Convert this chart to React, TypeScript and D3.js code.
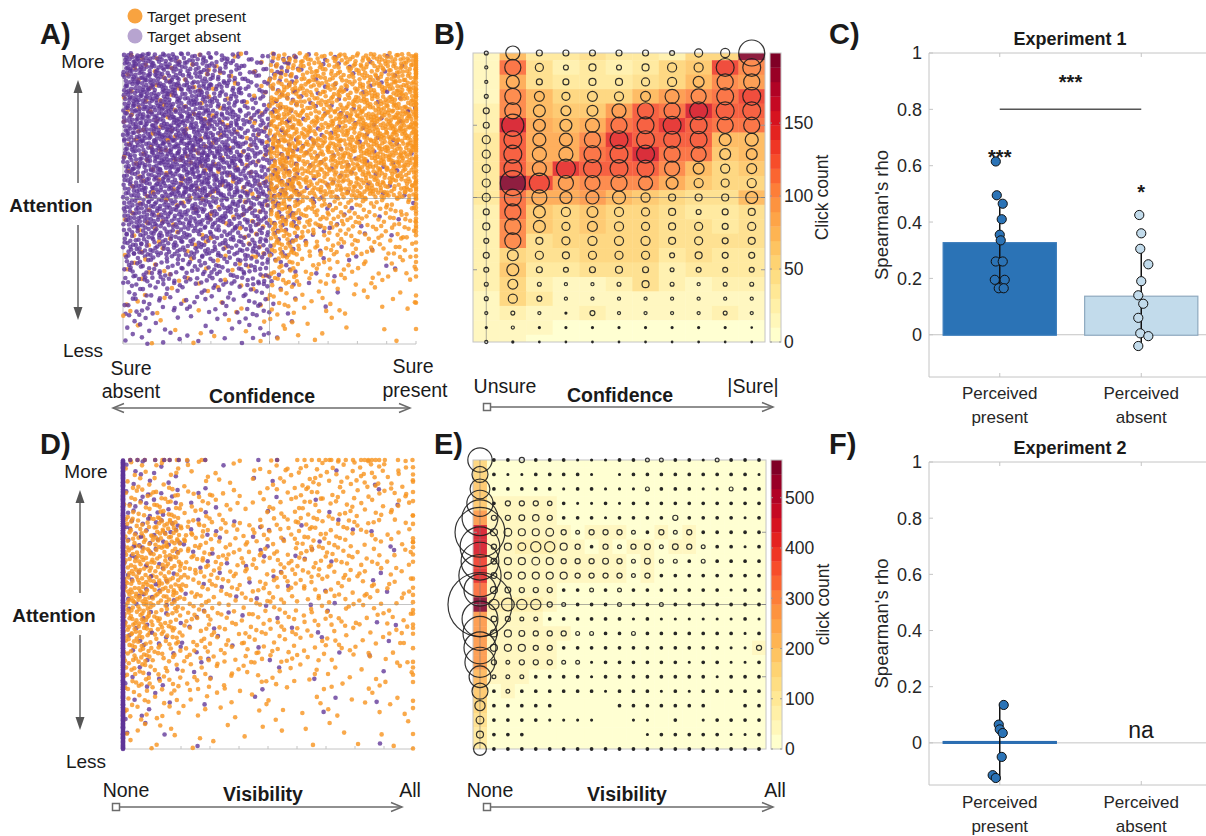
import * as d3 from 'd3'

const FONT = '"Liberation Sans", Arial, Helvetica, sans-serif'
const INK = '#1a1a1a'
const TICK_INK = '#262626'
const AXIS = '#c4c4c4'
const ARROW = '#6b6b6b'
const ORANGE = '#f7931e'
const PURPLE = '#5f3597'

// ---------- A) confidence x attention, counts per 0.1 x 0.1 bin (rows: more -> less attention)
const aAbsent = [
  [70, 55, 45, 35, 20, 20, 5, 4, 3, 3],
  [70, 65, 55, 40, 25, 12, 5, 5, 4, 3],
  [65, 70, 65, 50, 35, 10, 5, 5, 5, 3],
  [60, 70, 70, 60, 40, 12, 6, 5, 4, 3],
  [55, 60, 65, 55, 45, 18, 5, 5, 3, 3],
  [55, 55, 50, 45, 40, 15, 5, 4, 2, 2],
  [45, 45, 40, 35, 35, 12, 4, 3, 2, 1],
  [30, 25, 25, 25, 30, 8, 3, 2, 1, 1],
  [18, 12, 10, 12, 15, 4, 1, 1, 0, 0],
  [10, 6, 4, 5, 8, 2, 0, 0, 0, 0],
]
const aPresent = [
  [6, 6, 5, 4, 4, 30, 40, 40, 45, 55],
  [6, 6, 5, 4, 5, 45, 40, 45, 55, 60],
  [6, 6, 6, 5, 6, 55, 45, 55, 65, 70],
  [6, 6, 6, 5, 6, 60, 50, 55, 65, 65],
  [5, 5, 5, 5, 8, 60, 45, 50, 55, 50],
  [5, 5, 4, 4, 8, 45, 30, 25, 22, 20],
  [5, 5, 4, 4, 6, 35, 20, 18, 15, 15],
  [5, 4, 4, 4, 5, 22, 12, 10, 8, 8],
  [4, 3, 3, 3, 4, 12, 6, 5, 4, 4],
  [3, 2, 2, 2, 3, 6, 3, 2, 1, 1],
]
// target-present clicks sitting on "sure present" (per attention bin)
const aPresentSure = [14, 14, 14, 14, 12, 8, 6, 3, 2, 1]

// ---------- D) visibility x attention
const dAbsent = [
  [6, 4, 2, 1, 1, 1, 0, 1, 1, 0],
  [10, 8, 3, 1, 1, 1, 1, 1, 1, 1],
  [12, 12, 4, 3, 3, 2, 2, 2, 1, 1],
  [8, 6, 3, 3, 3, 2, 2, 1, 1, 1],
  [8, 5, 2, 2, 2, 2, 1, 1, 1, 1],
  [6, 4, 3, 2, 2, 2, 2, 1, 1, 1],
  [5, 4, 3, 2, 1, 1, 1, 1, 1, 1],
  [5, 3, 2, 1, 1, 1, 1, 0, 1, 0],
  [4, 2, 1, 0, 1, 0, 1, 1, 1, 0],
  [2, 1, 1, 0, 0, 0, 0, 0, 1, 0],
]
const dPresent = [
  [10, 8, 6, 4, 5, 10, 12, 12, 14, 10],
  [16, 20, 12, 8, 6, 10, 14, 12, 10, 10],
  [30, 40, 20, 12, 12, 12, 18, 14, 10, 8],
  [40, 35, 20, 15, 14, 14, 16, 14, 10, 8],
  [45, 40, 18, 14, 12, 14, 12, 12, 10, 8],
  [45, 28, 16, 12, 12, 12, 10, 10, 8, 8],
  [34, 22, 14, 12, 12, 12, 10, 8, 6, 6],
  [22, 14, 10, 8, 7, 6, 5, 5, 4, 4],
  [12, 8, 5, 4, 3, 3, 3, 3, 3, 3],
  [6, 4, 2, 2, 2, 1, 2, 2, 2, 2],
]
const dAbsentNone = [40, 40, 40, 40, 40, 40, 40, 40, 40, 40] // visibility = none
const dPresentAll = [3, 3, 3, 3, 4, 4, 3, 3, 2, 2] // visibility = all
const dPresentTop = [3, 6, 3, 0, 0, 1, 5, 5, 6, 3] // attention = max
const dAbsentTop = [3, 4, 1, 0, 1, 1, 0, 0, 0, 0]

// ---------- B) click counts (heat) and circle size, per confidence column (top row = more attention)
const bHeatByCol = [
  [15, 15, 15, 18, 25, 28, 30, 30, 30, 30, 30, 28, 28, 25, 25, 22, 20, 15, 12, 10, 10],
  [75, 110, 80, 105, 105, 150, 120, 120, 120, 190, 110, 110, 100, 105, 55, 60, 55, 55, 25, 15, 10],
  [35, 40, 40, 70, 75, 80, 85, 85, 90, 130, 85, 65, 65, 45, 40, 35, 20, 30, 15, 10, 8],
  [30, 25, 30, 55, 60, 70, 80, 85, 145, 95, 80, 55, 50, 50, 45, 30, 15, 15, 12, 8, 5],
  [40, 30, 35, 55, 60, 85, 105, 110, 125, 105, 90, 60, 60, 55, 50, 45, 15, 15, 25, 8, 5],
  [30, 25, 35, 55, 95, 110, 145, 125, 125, 105, 70, 55, 55, 55, 50, 40, 20, 15, 15, 8, 5],
  [35, 35, 40, 70, 120, 125, 120, 150, 125, 100, 60, 50, 50, 55, 55, 45, 40, 15, 12, 8, 5],
  [25, 55, 55, 95, 110, 145, 120, 110, 100, 85, 55, 40, 45, 45, 35, 25, 20, 15, 12, 8, 5],
  [50, 60, 75, 105, 155, 120, 120, 110, 70, 60, 45, 30, 45, 45, 40, 30, 15, 15, 15, 8, 5],
  [55, 130, 100, 115, 125, 110, 70, 65, 55, 50, 45, 35, 35, 40, 35, 30, 20, 15, 20, 8, 5],
  [195, 105, 95, 130, 125, 110, 75, 70, 60, 55, 70, 45, 45, 40, 35, 30, 20, 15, 15, 8, 5],
]
const bCircleByCol = [
  [15, 12, 12, 15, 23, 23, 31, 31, 31, 31, 31, 23, 27, 19, 23, 19, 15, 15, 12, 8, 12],
  [54, 62, 50, 62, 62, 85, 69, 69, 69, 96, 65, 62, 62, 62, 42, 46, 38, 35, 15, 12, 8],
  [23, 31, 23, 38, 46, 46, 50, 54, 54, 77, 58, 46, 46, 27, 31, 23, 15, 19, 12, 8, 6],
  [23, 19, 23, 31, 38, 46, 50, 54, 73, 58, 46, 35, 31, 31, 27, 19, 12, 12, 8, 8, 6],
  [23, 27, 27, 38, 42, 54, 62, 65, 69, 58, 50, 42, 38, 35, 31, 23, 12, 12, 19, 8, 6],
  [23, 19, 27, 35, 54, 62, 69, 69, 69, 62, 50, 35, 35, 35, 31, 27, 15, 12, 12, 8, 6],
  [23, 27, 31, 38, 62, 65, 69, 69, 65, 54, 35, 31, 31, 35, 31, 23, 27, 12, 12, 8, 6],
  [19, 35, 35, 54, 62, 69, 65, 62, 58, 46, 27, 27, 27, 27, 19, 15, 15, 12, 12, 8, 6],
  [31, 35, 42, 58, 69, 65, 65, 58, 42, 35, 27, 19, 31, 31, 27, 19, 12, 12, 12, 8, 6],
  [35, 69, 62, 65, 69, 62, 46, 42, 35, 31, 27, 23, 23, 23, 23, 19, 15, 12, 15, 8, 6],
  [100, 69, 62, 69, 69, 62, 50, 42, 38, 35, 46, 27, 31, 27, 23, 19, 15, 12, 12, 6, 6],
]

// ---------- E) click counts (heat) and circle size, per attention row (columns: none -> all visibility)
const eHeat = [
  [160, 25, 25, 25, 25, 25, 20, 20, 20, 20, 20, 20, 20, 20, 20, 20, 20, 20, 20, 20, 20],
  [170, 25, 20, 20, 25, 25, 20, 20, 15, 15, 20, 20, 20, 20, 20, 20, 20, 20, 20, 20, 15],
  [180, 25, 25, 25, 25, 25, 20, 20, 20, 15, 15, 20, 25, 20, 20, 20, 15, 15, 20, 20, 20],
  [200, 30, 35, 35, 35, 30, 20, 15, 15, 20, 15, 20, 20, 20, 20, 20, 20, 20, 20, 20, 20],
  [270, 35, 35, 40, 40, 35, 20, 20, 20, 15, 20, 20, 20, 20, 25, 20, 20, 20, 20, 15, 20],
  [450, 45, 50, 55, 55, 55, 30, 25, 30, 30, 30, 25, 20, 30, 25, 30, 20, 20, 20, 20, 20],
  [440, 40, 50, 60, 70, 70, 45, 30, 20, 30, 25, 30, 35, 25, 35, 30, 25, 20, 20, 15, 20],
  [400, 40, 45, 45, 50, 45, 30, 30, 30, 35, 30, 25, 35, 25, 25, 20, 25, 20, 20, 20, 20],
  [420, 40, 45, 45, 45, 45, 40, 30, 30, 30, 30, 25, 30, 20, 20, 20, 20, 20, 20, 20, 20],
  [330, 50, 45, 35, 35, 35, 20, 20, 25, 20, 25, 20, 20, 20, 20, 20, 20, 20, 15, 20, 20],
  [560, 65, 70, 65, 65, 35, 25, 20, 20, 20, 25, 20, 20, 25, 20, 20, 20, 20, 20, 20, 20],
  [280, 35, 35, 30, 30, 20, 20, 20, 20, 20, 20, 15, 20, 15, 15, 15, 15, 15, 15, 20, 15],
  [270, 40, 40, 35, 35, 35, 35, 25, 25, 20, 20, 25, 20, 20, 20, 20, 20, 20, 20, 15, 20],
  [260, 40, 40, 40, 35, 35, 20, 20, 20, 20, 20, 20, 20, 20, 20, 20, 20, 20, 15, 15, 30],
  [260, 35, 30, 35, 35, 35, 25, 25, 15, 20, 20, 20, 20, 20, 20, 15, 20, 20, 15, 15, 20],
  [210, 30, 30, 30, 20, 20, 20, 20, 15, 20, 20, 20, 20, 20, 20, 20, 20, 15, 20, 20, 20],
  [200, 20, 30, 20, 20, 20, 20, 20, 20, 15, 20, 20, 20, 20, 15, 20, 15, 20, 20, 20, 20],
  [170, 20, 20, 20, 20, 20, 5, 5, 5, 5, 20, 20, 20, 20, 20, 20, 20, 5, 5, 20, 20],
  [120, 20, 20, 20, 20, 15, 15, 15, 15, 5, 5, 15, 15, 5, 20, 5, 15, 20, 20, 20, 20],
  [110, 20, 20, 20, 5, 5, 5, 5, 5, 5, 5, 5, 15, 20, 20, 20, 20, 20, 15, 15, 20],
  [110, 20, 20, 20, 20, 20, 20, 20, 20, 20, 20, 20, 20, 20, 20, 20, 20, 20, 20, 20, 20],
]
const eCircle = [
  [38, 4, 4, 8, 4, 4, 4, 3, 3, 3, 4, 4, 6, 6, 4, 4, 3, 6, 4, 4, 4],
  [25, 4, 3, 3, 4, 4, 4, 4, 3, 0, 3, 4, 4, 4, 4, 4, 4, 4, 4, 4, 3],
  [31, 4, 4, 4, 4, 4, 3, 4, 4, 3, 3, 3, 6, 4, 4, 4, 3, 3, 6, 4, 4],
  [41, 4, 8, 8, 8, 7, 4, 3, 3, 4, 3, 4, 4, 4, 4, 4, 4, 4, 4, 4, 4],
  [56, 8, 8, 9, 10, 8, 4, 4, 4, 3, 4, 4, 4, 4, 8, 4, 4, 4, 4, 3, 4],
  [78, 11, 12, 11, 11, 12, 8, 6, 8, 8, 8, 6, 4, 8, 6, 8, 4, 4, 4, 4, 4],
  [62, 8, 11, 12, 16, 16, 11, 8, 4, 8, 6, 8, 9, 6, 9, 8, 6, 4, 4, 3, 4],
  [59, 9, 11, 11, 12, 11, 8, 8, 8, 9, 8, 6, 9, 6, 6, 4, 6, 4, 4, 4, 4],
  [66, 9, 11, 11, 11, 11, 11, 8, 8, 8, 8, 6, 8, 4, 4, 4, 4, 4, 4, 4, 4],
  [50, 11, 9, 8, 8, 8, 4, 4, 6, 4, 6, 4, 4, 4, 4, 4, 4, 4, 3, 4, 4],
  [100, 16, 20, 16, 16, 8, 6, 4, 4, 4, 6, 4, 4, 6, 4, 4, 4, 4, 4, 4, 4],
  [56, 9, 8, 6, 6, 4, 4, 4, 4, 4, 4, 3, 4, 3, 3, 3, 3, 3, 3, 4, 3],
  [53, 11, 11, 9, 8, 8, 8, 6, 6, 4, 4, 6, 4, 4, 4, 4, 4, 4, 4, 3, 4],
  [50, 11, 11, 11, 8, 8, 4, 4, 4, 4, 4, 4, 4, 4, 4, 4, 4, 4, 3, 3, 8],
  [47, 8, 6, 8, 8, 8, 6, 6, 3, 4, 4, 4, 4, 4, 4, 3, 4, 4, 3, 3, 4],
  [34, 6, 6, 6, 4, 4, 4, 4, 3, 4, 4, 4, 4, 4, 4, 4, 4, 3, 4, 4, 4],
  [25, 4, 6, 4, 4, 4, 4, 4, 4, 3, 4, 4, 4, 3, 4, 3, 4, 4, 4, 4, 4],
  [16, 4, 4, 4, 4, 4, 0, 0, 0, 0, 4, 4, 4, 4, 4, 4, 4, 0, 0, 4, 4],
  [12, 4, 4, 4, 4, 3, 3, 3, 3, 0, 0, 3, 3, 0, 4, 0, 3, 4, 4, 4, 4],
  [11, 4, 4, 4, 0, 0, 0, 0, 0, 0, 0, 0, 3, 4, 4, 4, 4, 4, 3, 3, 4],
  [20, 4, 4, 4, 4, 4, 4, 4, 4, 4, 4, 4, 4, 4, 4, 4, 4, 4, 4, 4, 4],
]

// ---------- C) / F) Spearman's rho
const groups = [['Perceived', 'present'], ['Perceived', 'absent']]
const exp1Mean = [0.325, 0.135]
const exp1Sd = [0.15, 0.17]
// [jitter (category units), rho]
const exp1Present = [[-0.028, 0.615], [-0.021, 0.495], [0.021, 0.465], [0.014, 0.41], [0, 0.355], [0.007, 0.335],
  [-0.028, 0.26], [0.021, 0.26], [-0.035, 0.195], [0.035, 0.195], [-0.007, 0.165], [0.028, 0.165]]
const exp1Absent = [[-0.014, 0.425], [0, 0.36], [-0.007, 0.305], [0.05, 0.25], [0, 0.19], [-0.021, 0.14],
  [0.014, 0.11], [-0.021, 0.06], [-0.007, 0.005], [0.05, -0.005], [-0.021, -0.04]]
const exp2Mean = [0.003]
const exp2Sd = [0.137]
const exp2Present = [[0.028, 0.135], [-0.007, 0.065], [0, 0.048], [0.021, 0.035], [0.014, -0.05], [-0.05, -0.115], [-0.028, -0.125]]

// radical inverse, used to spread a bin's count evenly over the bin
const halton = (i: number, b: number) => {
  let f = 1, v = 0
  while (i > 0) { f /= b; v += f * (i % b); i = Math.floor(i / b) }
  return v
}

type Dot = { x: number; y: number; absent: boolean }

// lay each bin's count out inside its bin, both groups interleaved
function binDots(present: number[][], absent: number[][]): Dot[] {
  const nr = present.length, nc = present[0].length
  const out: Dot[] = []
  for (let r = 0; r < nr; r++) for (let c = 0; c < nc; c++) {
    const base = (r * nc + c) * 211 + 17
    const nP = present[r][c], nA = absent[r][c]
    const at = (k: number) => ({ x: (c + halton(k, 2)) / nc, y: 1 - (r + halton(k, 3)) / nr })
    for (let i = 0; i < Math.max(nP, nA); i++) {
      if (i < nP) out.push({ ...at(base + i), absent: false })
      if (i < nA) out.push({ ...at(base + 100 + i), absent: true })
    }
  }
  return out
}

// dots sitting on an edge of the plot, counts per bin along it
function edgeDots(counts: number[], fixed: number, vertical: boolean, absent: boolean): Dot[] {
  const n = counts.length
  const out: Dot[] = []
  counts.forEach((cnt, b) => {
    for (let i = 0; i < cnt; i++) {
      const t = (b + halton(b * 53 + i + 1, 2)) / n
      out.push(vertical ? { x: fixed, y: 1 - t, absent } : { x: t, y: fixed, absent })
    }
  })
  return out
}

const txt = (size: number, bold = false) => ({ fontFamily: FONT, fontSize: size, fontWeight: bold ? 700 : 400, fill: INK })

function Scatter({ left, right, top, bottom, dots, vline }: { left: number; right: number; top: number; bottom: number; dots: Dot[]; vline: boolean }) {
  const x = d3.scaleLinear().domain([0, 1]).range([left, right])
  const y = d3.scaleLinear().domain([0, 1]).range([bottom, top])
  return (
    <g>
      <line x1={left} x2={left} y1={top} y2={bottom} stroke={AXIS} />
      <line x1={left} x2={right} y1={bottom} y2={bottom} stroke={AXIS} />
      {d3.range(11).map(i => <line key={i} x1={x(i / 10)} x2={x(i / 10)} y1={bottom} y2={bottom - 3} stroke={AXIS} />)}
      {dots.map((d, i) => (
        <circle key={i} cx={x(d.x)} cy={y(d.y)} r={2.3} fill={d.absent ? PURPLE : ORANGE} fillOpacity={d.absent ? 0.78 : 0.8} />
      ))}
      <line x1={left} x2={right} y1={y(0.5)} y2={y(0.5)} stroke="#8a8a8a" strokeOpacity={0.5} />
      {vline && <line x1={x(0.5)} x2={x(0.5)} y1={top} y2={bottom} stroke="#8a8a8a" strokeOpacity={0.5} />}
    </g>
  )
}

function Heat({ id, left, right, top, bottom, heat, circles, max, rMax, ticks, label }: {
  id: string; left: number; right: number; top: number; bottom: number; heat: number[][]; circles: number[][]
  max: number; rMax: number; ticks: number[]; label: string
}) {
  const nr = heat.length, nc = heat[0].length
  const x = d3.scaleLinear().domain([-0.5, nc - 0.5]).range([left, right])
  const y = d3.scaleLinear().domain([0, nr - 1]).range([top, bottom])
  const color = d3.scaleQuantize<string>().domain([0, max]).range(d3.quantize(d3.interpolateYlOrRd, 20))
  const rad = d3.scaleLinear().domain([0, 100]).range([0, rMax])
  const cb = d3.scaleLinear().domain([0, max]).range([bottom, top])
  const cbX = right + 5, cbW = 11
  return (
    <g>
      <clipPath id={id}><rect x={left} y={top} width={right - left} height={bottom - top} /></clipPath>
      <g clipPath={`url(#${id})`} opacity={0.88}>
        {heat.map((row, r) => row.map((v, c) => (
          <rect key={`${r}-${c}`} x={x(c - 0.5)} y={y(r - 0.5)} width={x(c + 0.5) - x(c - 0.5) + 0.4} height={y(r + 0.5) - y(r - 0.5) + 0.4} fill={color(v)} />
        )))}
      </g>
      <rect x={left} y={top} width={right - left} height={bottom - top} fill="none" stroke={AXIS} />
      {[5, 10, 15].map(r => (
        <g key={r}>
          <line x1={left} x2={left + 4} y1={y(r)} y2={y(r)} stroke="#999" />
          <line x1={right} x2={right - 4} y1={y(r)} y2={y(r)} stroke="#999" />
        </g>
      ))}
      <line x1={x(0)} x2={x(0)} y1={top} y2={bottom} stroke="#7a7a7a" strokeOpacity={0.6} />
      <line x1={left} x2={right} y1={y(10)} y2={y(10)} stroke="#7a7a7a" strokeOpacity={0.6} />
      {circles.map((row, r) => row.map((v, c) => v > 0 && (
        <circle key={`c${r}-${c}`} cx={x(c)} cy={y(r)} r={rad(v)} fill={rad(v) < 1.5 ? '#2a2a2a' : 'none'}
          stroke="#1e1e1e" strokeWidth={1.2} strokeOpacity={0.9} />
      )))}
      {d3.range(20).map(i => {
        const a = (i * max) / 20, b = ((i + 1) * max) / 20
        return <rect key={`cb${i}`} x={cbX} y={cb(b)} width={cbW} height={cb(a) - cb(b) + 0.3} fill={color((a + b) / 2)} />
      })}
      <rect x={cbX} y={top} width={cbW} height={bottom - top} fill="none" stroke={AXIS} />
      {ticks.map(t => (
        <g key={`t${t}`}>
          <line x1={cbX} x2={cbX + 2} y1={cb(t)} y2={cb(t)} stroke="#999" />
          <line x1={cbX + cbW} x2={cbX + cbW - 2} y1={cb(t)} y2={cb(t)} stroke="#999" />
          <text x={cbX + 14} y={cb(t)} dy="0.36em" style={{ ...txt(17.5), fill: TICK_INK }}>{t}</text>
        </g>
      ))}
      <text transform={`translate(${cbX + 58},${(top + bottom) / 2}) rotate(-90)`} textAnchor="middle" style={{ ...txt(17.5), fill: TICK_INK }}>{label}</text>
    </g>
  )
}

function Rho({ top, bottom, title, means, sds, sets, fills, strokes, labelY }: {
  top: number; bottom: number; title: string; means: number[]; sds: number[]; sets: number[][][]
  fills: string[]; strokes: string[]; labelY: number
}) {
  const x = d3.scaleLinear().domain([0.5, 2.5]).range([929, 1212])
  const y = d3.scaleLinear().domain([-0.15, 1]).range([bottom, top])
  const bw = x(0.8) - x(0)
  return (
    <g>
      <text x={1070} y={top - 8} textAnchor="middle" style={txt(18, true)}>{title}</text>
      <line x1={x(0.5)} x2={x(2.5)} y1={top} y2={top} stroke={AXIS} />
      <line x1={x(0.5)} x2={x(2.5)} y1={bottom} y2={bottom} stroke={AXIS} />
      <line x1={x(0.5)} x2={x(0.5)} y1={top} y2={bottom} stroke={AXIS} />
      <line x1={x(0.5)} x2={x(2.5)} y1={y(0)} y2={y(0)} stroke={AXIS} />
      {[0, 0.2, 0.4, 0.6, 0.8, 1].map(t => (
        <g key={t}>
          <line x1={x(0.5)} x2={x(0.5) + 4} y1={y(t)} y2={y(t)} stroke={AXIS} />
          <text x={x(0.5) - 7} y={y(t)} dy="0.36em" textAnchor="end" style={{ ...txt(18), fill: TICK_INK }}>{t}</text>
        </g>
      ))}
      {groups.map((g, i) => (
        <g key={g[1]}>
          <line x1={x(i + 1)} x2={x(i + 1)} y1={top} y2={top + 4} stroke={AXIS} />
          <line x1={x(i + 1)} x2={x(i + 1)} y1={bottom} y2={bottom - 4} stroke={AXIS} />
          <text x={x(i + 1)} y={labelY} textAnchor="middle" style={{ ...txt(17), fill: TICK_INK }}>{g[0]}</text>
          <text x={x(i + 1)} y={labelY + 24} textAnchor="middle" style={{ ...txt(17), fill: TICK_INK }}>{g[1]}</text>
        </g>
      ))}
      <text transform={`translate(888,${(top + bottom) / 2}) rotate(-90)`} textAnchor="middle" style={{ ...txt(18.5), fill: TICK_INK }}>Spearman's rho</text>
      {means.map((m, i) => (
        <g key={`b${i}`}>
          <rect x={x(i + 1) - bw / 2} y={Math.min(y(m), y(0)) - 0.5} width={bw} height={Math.abs(y(0) - y(m)) + 1}
            fill={fills[i]} stroke={strokes[i]} strokeWidth={1.2} />
          <line x1={x(i + 1)} x2={x(i + 1)} y1={y(m + sds[i])} y2={y(m - sds[i])} stroke="#111" strokeWidth={1.5} />
          {sets[i].map(([j, v], k) => (
            <circle key={k} cx={x(i + 1 + j)} cy={y(v)} r={4.6} fill={fills[i]} stroke="#111" strokeWidth={1} />
          ))}
        </g>
      ))}
    </g>
  )
}

function HArrow({ x0, x1, y, square, double }: { x0: number; x1: number; y: number; square?: boolean; double?: boolean }) {
  return (
    <g stroke={ARROW} strokeWidth={1.5} fill="none">
      <line x1={x0} x2={x1} y1={y} y2={y} />
      <path d={`M${x1 - 11},${y - 4.5} L${x1},${y} L${x1 - 11},${y + 4.5}`} />
      {double && <path d={`M${x0 + 11},${y - 4.5} L${x0},${y} L${x0 + 11},${y + 4.5}`} />}
      {square && <rect x={x0 - 3.5} y={y - 3.5} width={7} height={7} fill="#fff" />}
    </g>
  )
}

function VArrow({ x, y0, gap0, gap1, y1 }: { x: number; y0: number; gap0: number; gap1: number; y1: number }) {
  return (
    <g>
      <line x1={x} x2={x} y1={y0 + 8} y2={gap0} stroke={ARROW} strokeWidth={1.6} />
      <line x1={x} x2={x} y1={gap1} y2={y1 - 8} stroke={ARROW} strokeWidth={1.6} />
      <path d={`M${x},${y0} L${x - 4.5},${y0 + 13} L${x + 4.5},${y0 + 13} Z`} fill="#555" />
      <path d={`M${x},${y1} L${x - 4.5},${y1 - 13} L${x + 4.5},${y1 - 13} Z`} fill="#555" />
    </g>
  )
}

export default function App() {
  const aDots = [...binDots(aPresent, aAbsent), ...edgeDots(aPresentSure, 1, true, false)]
  const dDots = [
    ...binDots(dPresent, dAbsent),
    ...edgeDots(dPresentAll, 1, true, false),
    ...edgeDots(dPresentTop, 1, false, false),
    ...edgeDots(dAbsentTop, 1, false, true),
    ...edgeDots(dAbsentNone, 0, true, true),
  ]
  const yC = d3.scaleLinear().domain([-0.15, 1]).range([377, 53])
  const xC = d3.scaleLinear().domain([0.5, 2.5]).range([929, 1212])
  return (
    <svg width={1206} height={836} style={{ position: 'absolute', left: 0, top: 0, background: '#fff' }}>
      {/* ---- A ---- */}
      <text x={40} y={44} style={txt(29, true)}>A)</text>
      <circle cx={135} cy={16} r={7.5} fill={ORANGE} fillOpacity={0.85} />
      <circle cx={135} cy={36} r={7.5} fill={PURPLE} fillOpacity={0.45} />
      <text x={147} y={22} style={txt(15.5)}>Target present</text>
      <text x={147} y={42} style={txt(15.5)}>Target absent</text>
      <Scatter left={123} right={416} top={53} bottom={344} dots={aDots} vline />
      <text x={83} y={68} textAnchor="middle" style={txt(19)}>More</text>
      <text x={51} y={212} textAnchor="middle" style={txt(19, true)}>Attention</text>
      <text x={83} y={357} textAnchor="middle" style={txt(19)}>Less</text>
      <VArrow x={78} y0={80} gap0={183} gap1={225} y1={320} />
      <text x={131} y={375} textAnchor="middle" style={txt(19.5)}>Sure</text>
      <text x={131} y={398} textAnchor="middle" style={txt(19.5)}>absent</text>
      <text x={413} y={373} textAnchor="middle" style={txt(19.5)}>Sure</text>
      <text x={415} y={397} textAnchor="middle" style={txt(19.5)}>present</text>
      <text x={262} y={403} textAnchor="middle" style={txt(19.5, true)}>Confidence</text>
      <HArrow x0={113} x1={410} y={408} double />

      {/* ---- B ---- */}
      <text x={434} y={44} style={txt(29, true)}>B)</text>
      <Heat id="clipB" left={473} right={765} top={53} bottom={342} heat={d3.transpose(bHeatByCol)} circles={d3.transpose(bCircleByCol)}
        max={198} rMax={13} ticks={[0, 50, 100, 150]} label="Click count" />
      <text x={505} y={393} textAnchor="middle" style={txt(19.5)}>Unsure</text>
      <text x={620} y={402} textAnchor="middle" style={txt(19.5, true)}>Confidence</text>
      <text x={753} y={393} textAnchor="middle" style={txt(19.5)}>|Sure|</text>
      <HArrow x0={487} x1={773} y={407} square />

      {/* ---- C ---- */}
      <text x={829} y={44} style={txt(29, true)}>C)</text>
      <Rho top={53} bottom={377} title="Experiment 1" means={exp1Mean} sds={exp1Sd} sets={[exp1Present, exp1Absent]}
        fills={['#2b73b6', '#c2dbeb']} strokes={['#3a7cbb', '#8ea9bf']} labelY={399} />
      <line x1={xC(1)} x2={xC(2)} y1={yC(0.8)} y2={yC(0.8)} stroke="#555" strokeWidth={1.5} />
      <text x={(xC(1) + xC(2)) / 2} y={yC(0.91) + 11} textAnchor="middle" style={txt(20, true)}>***</text>
      <text x={xC(1)} y={yC(0.645) + 11} textAnchor="middle" style={txt(20, true)}>***</text>
      <text x={xC(2)} y={yC(0.52) + 11} textAnchor="middle" style={txt(20, true)}>*</text>

      {/* ---- D ---- */}
      <text x={40} y={454} style={txt(29, true)}>D)</text>
      <Scatter left={123} right={413} top={460} bottom={749} dots={dDots} vline={false} />
      <text x={86} y={478} textAnchor="middle" style={txt(19)}>More</text>
      <text x={54} y={622} textAnchor="middle" style={txt(19, true)}>Attention</text>
      <text x={86} y={768} textAnchor="middle" style={txt(19)}>Less</text>
      <VArrow x={80} y0={490} gap0={593} gap1={635} y1={730} />
      <text x={126} y={797} textAnchor="middle" style={txt(19.5)}>None</text>
      <text x={263} y={801} textAnchor="middle" style={txt(19.5, true)}>Visibility</text>
      <text x={410} y={797} textAnchor="middle" style={txt(19.5)}>All</text>
      <HArrow x0={116} x1={402} y={807} square />

      {/* ---- E ---- */}
      <text x={434} y={454} style={txt(29, true)}>E)</text>
      <Heat id="clipE" left={473} right={766} top={460} bottom={749} heat={eHeat} circles={eCircle}
        max={575} rMax={32} ticks={[0, 100, 200, 300, 400, 500]} label="click count" />
      <text x={490} y={797} textAnchor="middle" style={txt(19.5)}>None</text>
      <text x={627} y={801} textAnchor="middle" style={txt(19.5, true)}>Visibility</text>
      <text x={775} y={797} textAnchor="middle" style={txt(19.5)}>All</text>
      <HArrow x0={487} x1={773} y={807} square />

      {/* ---- F ---- */}
      <text x={829} y={454} style={txt(29, true)}>F)</text>
      <Rho top={462} bottom={785} title="Experiment 2" means={exp2Mean} sds={exp2Sd} sets={[exp2Present]}
        fills={['#2b73b6']} strokes={['#2b6cb0']} labelY={808} />
      <text x={1141} y={738} textAnchor="middle" style={txt(23)}>na</text>
    </svg>
  )
}
